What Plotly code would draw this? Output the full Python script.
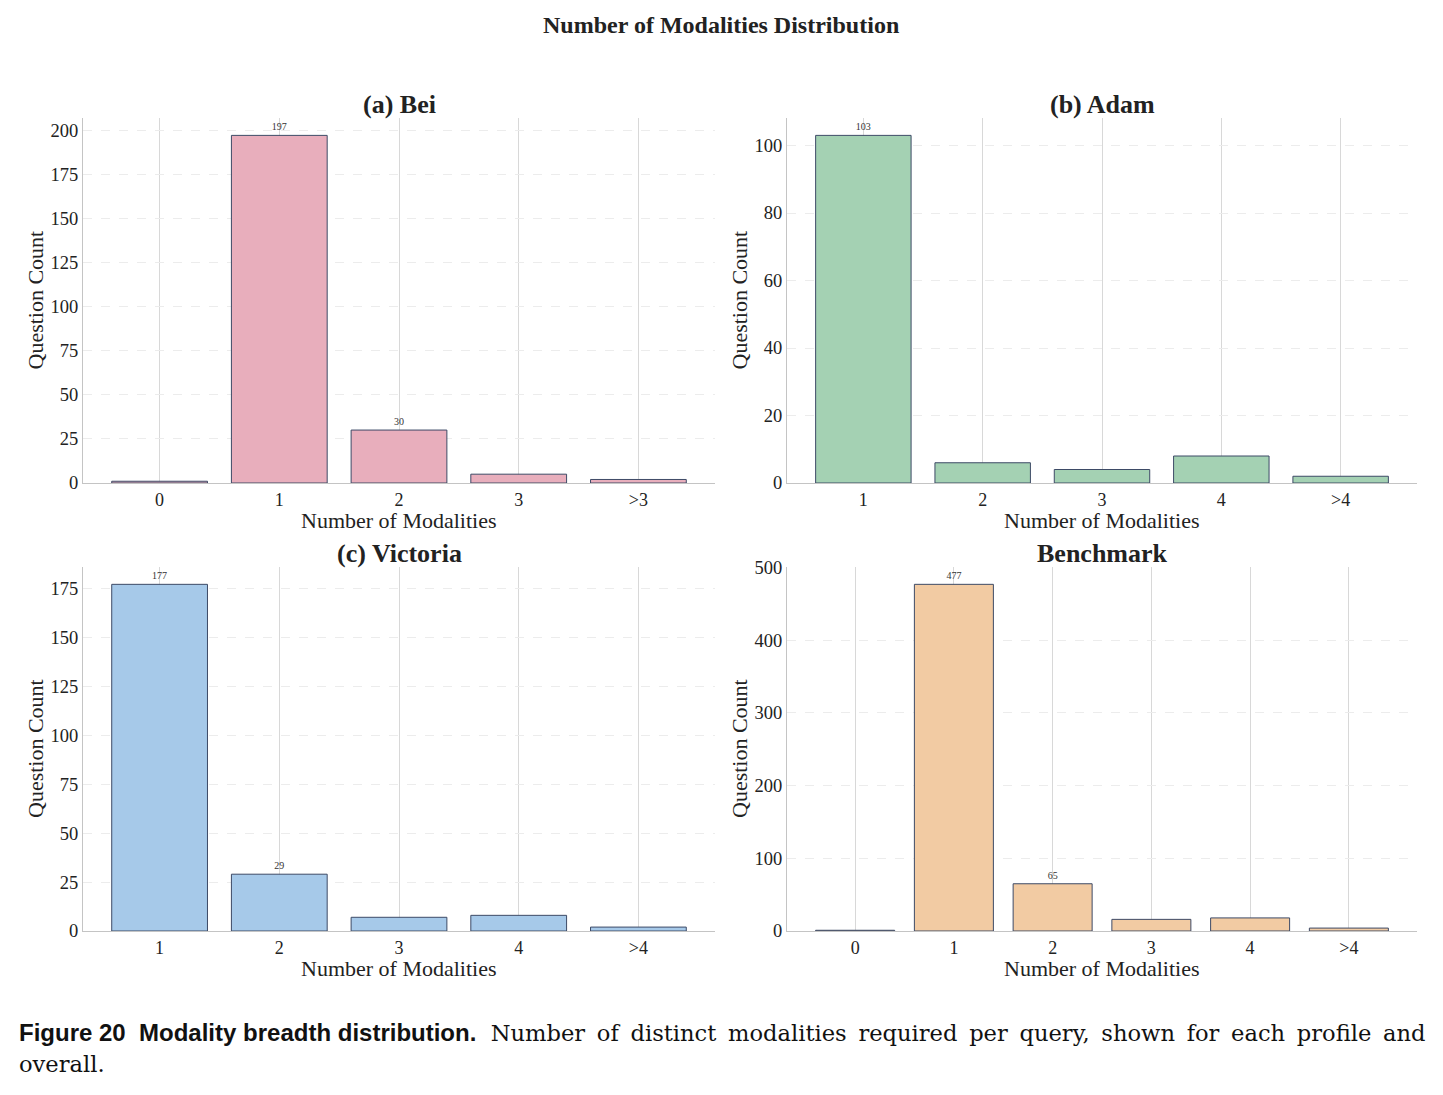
import plotly.graph_objects as go

# ---- data ----
bei_labels = ["0", "1", "2", "3", ">3"]
bei_counts = [1, 197, 30, 5, 2]
adam_labels = ["1", "2", "3", "4", ">4"]
adam_counts = [103, 6, 4, 8, 2]
victoria_labels = ["1", "2", "3", "4", ">4"]
victoria_counts = [177, 29, 7, 8, 2]
bench_labels = ["0", "1", "2", "3", "4", ">4"]
bench_counts = [1, 477, 65, 16, 18, 4]

panel_titles = ["(a) Bei", "(b) Adam", "(c) Victoria", "Benchmark"]
panel_colors = ["#E8AEBC", "#A4D1B3", "#A6C9E9", "#F2CBA3"]
panel_dtick = [25, 20, 25, 100]
x_title = "Number of Modalities"
y_title = "Question Count"

W, H = 1443, 1095
SERIF = "Liberation Serif, Times New Roman, serif"

panels = [
    (bei_labels, bei_counts),
    (adam_labels, adam_counts),
    (victoria_labels, victoria_counts),
    (bench_labels, bench_counts),
]

# plot-area pixel boxes (left, right, top, bottom)
boxes = [(83, 715, 118, 483), (787, 1417, 118, 483),
         (83, 715, 567, 931), (787, 1417, 567, 931)]

fig = go.Figure()
for i, ((labels, counts), box) in enumerate(zip(panels, boxes)):
    n = i + 1
    xa = "x" if n == 1 else f"x{n}"
    ya = "y" if n == 1 else f"y{n}"
    xs = list(range(len(labels)))
    maxv = max(counts)
    texts = [str(v) if v >= 0.1 * maxv else "" for v in counts]
    fig.add_trace(go.Bar(
        x=xs, y=counts, width=0.8, xaxis=xa, yaxis=ya,
        marker=dict(color=panel_colors[i], line=dict(color="#3d4a66", width=1)),
        text=texts, textposition="outside", cliponaxis=False,
        textfont=dict(family=SERIF, size=10, color="#333333"),
        showlegend=False, hoverinfo="x+y",
    ))
    l, r, t, b = box
    m = 0.4 + 0.05 * (len(labels) - 1 + 0.8)
    xkey = "xaxis" if n == 1 else f"xaxis{n}"
    ykey = "yaxis" if n == 1 else f"yaxis{n}"
    fig.update_layout({
        xkey: dict(
            domain=[l / W, r / W], anchor=ya, automargin=False,
            range=[-m, len(labels) - 1 + m],
            tickmode="array", tickvals=xs, ticktext=labels,
            showgrid=True, gridcolor="#d8d8d8", gridwidth=1,
            showline=True, linecolor="#c4c4c4", linewidth=1.2,
            ticks="", zeroline=False,
            tickfont=dict(family=SERIF, size=18, color="#222222"),
        ),
        ykey: dict(
            domain=[1 - b / H, 1 - t / H], anchor=xa, automargin=False,
            range=[0, maxv * 1.05],
            dtick=panel_dtick[i], tick0=0,
            showgrid=True, gridcolor="#ececec", gridwidth=1, griddash="dash",
            showline=True, linecolor="#c4c4c4", linewidth=1.2,
            ticks="", zeroline=False,
            tickfont=dict(family=SERIF, size=18.5, color="#222222"),
        ),
    })
    fig.add_annotation(
        x=(l + r) / 2 / W, y=1 - (t - 14) / H, xref="paper", yref="paper",
        text=f"<b>{panel_titles[i]}</b>", showarrow=False,
        font=dict(family=SERIF, size=26, color="#222222"),
        xanchor="center", yanchor="middle",
    )
    fig.add_annotation(
        x=(l + r) / 2 / W, y=1 - (b + 37) / H, xref="paper", yref="paper",
        text=x_title, showarrow=False,
        font=dict(family=SERIF, size=22, color="#222222"),
        xanchor="center", yanchor="middle",
    )
    fig.add_annotation(
        x=(l - 48) / W, y=1 - (t + b) / 2 / H, xref="paper", yref="paper",
        text=y_title, showarrow=False, textangle=-90,
        font=dict(family=SERIF, size=22, color="#222222"),
        xanchor="center", yanchor="middle",
    )

fig.add_annotation(
    x=721 / W, y=1 - 25 / H, xref="paper", yref="paper",
    text="<b>Number of Modalities Distribution</b>", showarrow=False,
    font=dict(family=SERIF, size=24, color="#222222"),
    xanchor="center", yanchor="middle",
)

caption_words = ("Number of distinct modalities required per query, "
                 "shown for each profile and").split(" ")
caption_line1 = " &#8201;".join(caption_words)
fig.add_annotation(
    x=17 / W, y=1 - 1032 / H, xref="paper", yref="paper",
    text=("<span style='font-family:Liberation Sans, Arial, sans-serif;font-size:24px'>"
          "<b>Figure 20&nbsp;&nbsp;Modality breadth distribution.</b></span>&nbsp; "
          + caption_line1),
    showarrow=False, font=dict(family="DejaVu Serif, serif", size=22.6, color="#111111"),
    xanchor="left", yanchor="middle", align="left",
)
fig.add_annotation(
    x=17 / W, y=1 - 1064 / H, xref="paper", yref="paper",
    text="overall.", showarrow=False,
    font=dict(family="DejaVu Serif, serif", size=22.6, color="#111111"),
    xanchor="left", yanchor="middle", align="left",
)

fig.update_layout(
    width=W, height=H, margin=dict(l=0, r=0, t=0, b=0),
    paper_bgcolor="white", plot_bgcolor="white",
    bargap=0.2,
)

fig.write_html("out.html")
